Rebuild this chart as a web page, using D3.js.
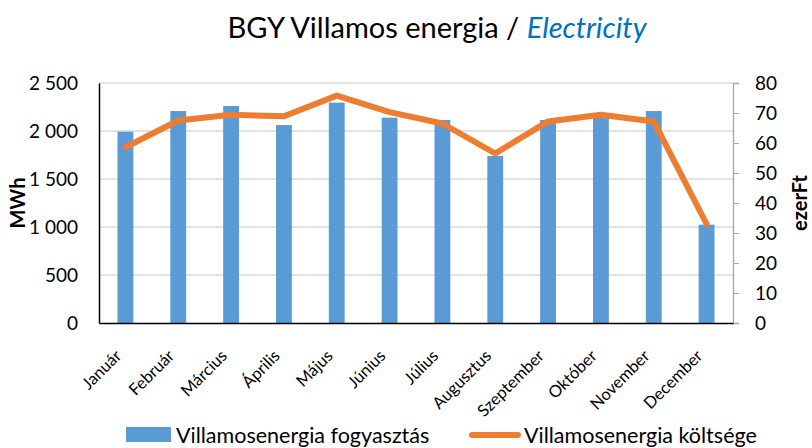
<!DOCTYPE html>
<meta charset="utf-8">
<head>
    <script src="https://d3js.org/d3.v7.min.js"></script>
</head>
<style>
    body { margin: 0; background: #fff; }
    text { font-family: Lato, 'Open Sans', sans-serif; fill: #000; }
</style>
<div id="chart"></div>
<script>

    // months on the x axis
    var months = ["Január", "Február", "Március", "Április", "Május", "Június",
        "Július", "Augusztus", "Szeptember", "Október", "November", "December"];
    // consumption, MWh (left axis)
    var consumption = [1993, 2208, 2260, 2062, 2295, 2139, 2115, 1740, 2115, 2167, 2208, 1024];
    // cost, ezer Ft (right axis)
    var cost = [58.6, 67.5, 69.4, 68.9, 75.8, 70.3, 66.5, 56.5, 67.2, 69.4, 67.2, 33.0];
    var leftTicks = [0, 500, 1000, 1500, 2000, 2500];
    var rightTicks = [0, 10, 20, 30, 40, 50, 60, 70, 80];

    var W = 812, H = 448;
    var margin = {top: 83, right: 79, bottom: 125, left: 99},
        width = W - margin.left - margin.right,
        height = H - margin.top - margin.bottom;

    var svg = d3.select("#chart")
        .append("svg")
        .attr("width", W)
        .attr("height", H);

    // title
    var title = svg.append("text")
        .attr("x", 437)
        .attr("y", 38)
        .attr("text-anchor", "middle")
        .style("font-size", "29px");
    title.append("tspan").text("BGY Villamos energia / ");
    title.append("tspan").style("fill", "#0070C0").style("font-style", "italic").text("Electricity");

    var g = svg.append("g")
        .attr("transform", "translate(" + margin.left + "," + margin.top + ")");

    var x = d3.scaleBand()
        .domain(months)
        .range([0, width])
        .paddingInner(0.7)
        .paddingOuter(0.35);

    var y = d3.scaleLinear()
        .domain([0, 2500])
        .range([height, 0]);

    var y2 = d3.scaleLinear()
        .domain([0, 80])
        .range([height, 0]);

    // gridlines
    g.append("g")
        .selectAll("line")
        .data(leftTicks.slice(1))
        .enter()
        .append("line")
        .attr("x1", 0)
        .attr("x2", width)
        .attr("y1", function(d) { return y(d); })
        .attr("y2", function(d) { return y(d); })
        .style("stroke", "#d9d9d9")
        .style("stroke-width", 1.3);

    // bars
    g.append("g")
        .selectAll("rect")
        .data(consumption)
        .enter()
        .append("rect")
        .attr("x", function(d, i) { return x(months[i]); })
        .attr("width", x.bandwidth())
        .attr("y", function(d) { return y(d); })
        .attr("height", function(d) { return height - y(d); })
        .style("fill", "#5B9BD5");

    // left axis
    var yAxis = g.append("g")
        .call(d3.axisLeft(y).tickValues(leftTicks).tickSize(0).tickPadding(21)
            .tickFormat(function(d) { return d3.format(",")(d).replace(",", " "); }));
    yAxis.select(".domain").style("stroke", "#000").style("stroke-width", 1.5);
    yAxis.selectAll("text").style("font-size", "19px").style("font-family", "Lato, sans-serif");

    // right axis
    var y2Axis = g.append("g")
        .attr("transform", "translate(" + width + ",0)")
        .call(d3.axisRight(y2).tickValues(rightTicks).tickSize(6).tickPadding(16));
    y2Axis.select(".domain").style("stroke", "#a6a6a6").style("stroke-width", 1.3);
    y2Axis.selectAll("line").style("stroke", "#a6a6a6");
    y2Axis.selectAll("text").style("font-size", "19px").style("font-family", "Lato, sans-serif");

    // bottom axis (labels drawn below)
    var xAxis = g.append("g")
        .attr("transform", "translate(0," + height + ")")
        .call(d3.axisBottom(x).tickSize(0).tickFormat(""));
    xAxis.select(".domain").style("stroke", "#000").style("stroke-width", 1.5);

    g.append("g")
        .selectAll("text")
        .data(months)
        .enter()
        .append("text")
        .attr("text-anchor", "end")
        .attr("transform", function(d) {
            return "translate(" + (x(d) + x.bandwidth() / 2 - 3) + "," + (height + 34) + ") rotate(-45)";
        })
        .style("font-size", "16.5px")
        .text(function(d) { return d; });

    // line
    var line = d3.line()
        .x(function(d, i) { return x(months[i]) + x.bandwidth() / 2; })
        .y(function(d) { return y2(d); });

    g.append("path")
        .datum(cost)
        .attr("d", line)
        .style("fill", "none")
        .style("stroke", "#ED7D31")
        .style("stroke-width", 6)
        .style("stroke-linejoin", "round")
        .style("stroke-linecap", "round");

    // axis titles
    svg.append("text")
        .attr("transform", "translate(25," + (margin.top + height / 2) + ") rotate(-90)")
        .attr("text-anchor", "middle")
        .style("font-size", "20px")
        .style("font-weight", "bold")
        .text("MWh");

    svg.append("text")
        .attr("transform", "translate(807," + (margin.top + height / 2) + ") rotate(-90)")
        .attr("text-anchor", "middle")
        .style("font-size", "20px")
        .style("font-weight", "bold")
        .text("ezerFt");

    // legend
    var legend = svg.append("g");
    legend.append("rect")
        .attr("x", 126).attr("y", 427)
        .attr("width", 45).attr("height", 15)
        .style("fill", "#5B9BD5");
    legend.append("text")
        .attr("x", 176).attr("y", 443)
        .style("font-size", "21.5px")
        .text("Villamosenergia fogyasztás");
    legend.append("line")
        .attr("x1", 472).attr("x2", 518)
        .attr("y1", 435).attr("y2", 435)
        .style("stroke", "#ED7D31")
        .style("stroke-width", 6)
        .style("stroke-linecap", "round");
    legend.append("text")
        .attr("x", 524).attr("y", 443)
        .style("font-size", "21.5px")
        .text("Villamosenergia költsége");

</script>
